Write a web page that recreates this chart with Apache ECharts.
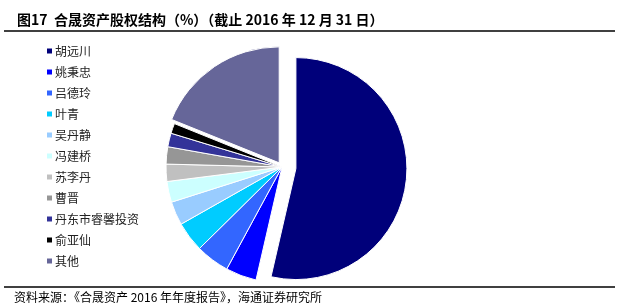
<!DOCTYPE html>
<html>
<head>
<meta charset="utf-8">
<script src="https://cdn.jsdelivr.net/npm/echarts@6/dist/echarts.min.js"></script>
<style>
html,body{margin:0;padding:0;background:#fff;}
#main{width:618px;height:306px;}
</style>
</head>
<body>
<div id="main"></div>
<script>
const categories = ['胡远川','姚秉忠','吕德玲','叶青','吴丹静','冯建桥','苏李丹','曹晋','丹东市睿馨投资','俞亚仙','其他'];
const values = [53.6, 4.3, 4.7, 4.2, 3.3, 2.9, 2.4, 2.4, 1.9, 1.4, 18.9];
const colors = ['#00007A','#0000FF','#3366FF','#00CCFF','#99CCFF','#CCFFFF','#C0C0C0','#969696','#333399','#000000','#666699'];
const titleText = '图17  合晟资产股权结构（%）（截止 2016 年 12 月 31 日）';
const sourceText = '资料来源：《合晟资产 2016 年年度报告》，海通证券研究所';

const chart = echarts.init(document.getElementById('main'), null, {renderer:'canvas'});

// largest holder drawn as its own exploded wedge (smaller radius, larger offset)
const restValue = values.slice(1).reduce((a,b)=>a+b,0);
const huData = [
  {name:categories[0], value:values[0], selected:true, itemStyle:{color:colors[0], borderColor:'#fff', borderWidth:1}},
  {name:'__rest', value:restValue, itemStyle:{color:'transparent', borderWidth:0}}
];
const baseData = categories.map((c,i)=>({
  name:c, value:values[i],
  selected: c === '其他',
  itemStyle: i === 0 ? {color:'transparent', borderWidth:0} : {color:colors[i], borderColor:'#fff', borderWidth:1}
}));

chart.setOption({
  animation:false,
  backgroundColor:'#fff',
  title:{
    text:titleText, left:12, top:8,
    textStyle:{fontSize:14, fontWeight:'bold', color:'#000', fontFamily:'Noto Sans CJK SC'}
  },
  legend:{
    orient:'vertical', left:40, top:40,
    icon:'rect', itemWidth:7, itemHeight:7, itemGap:9,
    selectedMode:false,
    textStyle:{fontSize:12, color:'#222', lineHeight:12, fontFamily:'Noto Sans CJK SC', padding:[0,0,0,-3]},
    data:categories
  },
  graphic:[
    {type:'line', shape:{x1:4,y1:31,x2:615,y2:31}, style:{stroke:'#000', lineWidth:1.5}},
    {type:'line', shape:{x1:4,y1:287,x2:615,y2:287}, style:{stroke:'#000', lineWidth:1.5}},
    {type:'text', left:14, top:291, style:{text:sourceText, fontSize:12, fill:'#000', fontFamily:'Noto Sans CJK SC'}}
  ],
  series:[{
    type:'pie',
    center:[282,167],
    radius:[0,111],
    startAngle:90,
    clockwise:true,
    selectedMode:'multiple',
    selectedOffset:14,
    label:{show:false},
    labelLine:{show:false},
    emphasis:{disabled:true},
    silent:true,
    data:huData
  },{
    type:'pie',
    center:[282,167],
    radius:[0,116],
    startAngle:90,
    clockwise:true,
    selectedMode:'multiple',
    selectedOffset:5,
    label:{show:false},
    labelLine:{show:false},
    emphasis:{disabled:true},
    silent:true,
    data:baseData
  }]
});
</script>
</body>
</html>
